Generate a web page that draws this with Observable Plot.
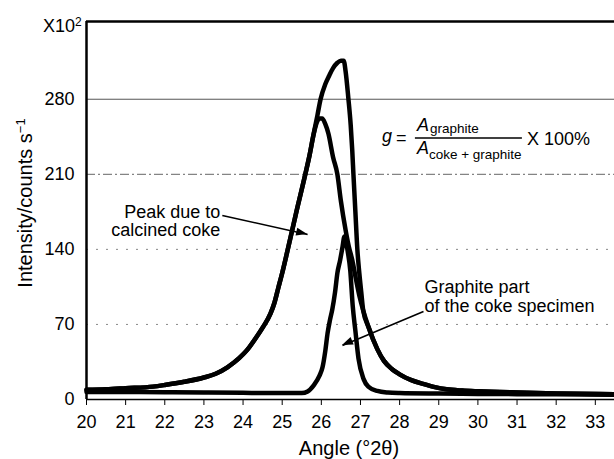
<!DOCTYPE html>
<html>
<head>
<meta charset="utf-8">
<script src="https://cdn.jsdelivr.net/npm/d3@7"></script>
<script src="https://cdn.jsdelivr.net/npm/@observablehq/plot@0.6"></script>
<style>
html,body{margin:0;padding:0;background:#fff;}
svg{display:block;}
</style>
</head>
<body>
<div id="chart"></div>
<script>
// ---- tick labels ----
const xTicks = [20,21,22,23,24,25,26,27,28,29,30,31,32,33];
const yTicks = [0,70,140,210,280];
const xDomain = [20, 33.49];
const yDomain = [0, 352.5];

// ---- series (intensity in counts/s x10^2) ----
const cokeAngle = [20,20.5,21,21.7,22,22.5,23,23.3,23.6,23.9,24.1,24.3,24.5,24.7,24.8,24.9,25.0,25.13,25.35,25.59,25.7,25.8,25.88,25.95,26.02,26.1,26.18,26.3,26.41,26.5,26.62,26.7,26.79,26.88,26.97,27.07,27.2,27.43,27.6,27.8,28.0,28.3,28.6,28.9,29.2,29.6,30,31,32,33.49];
const cokeIntensity = [9,9.5,10.5,12,13.5,16.5,20.5,24,30,38.5,46,56,67,80,90,104,118,138,173,210,228,247,258,262,262,257,248,226,210,185,158,143,130,113,97,83,68,47,36,28.5,23.5,18,14.5,11.5,9.5,8.3,7.6,6.5,5.7,5];

const totalAngle = [20,20.5,21,21.7,22,22.5,23,23.3,23.6,23.9,24.1,24.3,24.5,24.7,24.8,24.9,25.0,25.13,25.35,25.59,25.7,25.8,25.9,25.98,26.1,26.2,26.3,26.41,26.5,26.57,26.62,26.69,26.75,26.79,26.82,26.87,26.92,26.97,27.02,27.07,27.2,27.43,27.6,27.8,28.0,28.3,28.6,28.9,29.2,29.6,30,31,32,33.49];
const totalIntensity = [9,9.5,10.5,12,13.5,16.5,20.5,24,30,38.5,46,56,67,80,90,104,118,138,173,210,228,247,265,280,294,302,309,314,316,316,306,281,256,232,210,175,140,118,100,83,68,47,36,28.5,23.5,18,14.5,11.5,9.5,8.3,7.6,6.5,5.7,5];

const graphiteAngle = [20,21,22,23,24,25,25.5,25.65,25.8,25.95,26.03,26.1,26.16,26.22,26.28,26.35,26.41,26.48,26.54,26.59,26.63,26.67,26.74,26.8,26.87,26.95,27.08,27.2,27.43,27.7,28,29,30,31,32,33.49];
const graphiteIntensity = [7,7,6.8,6.5,6.2,6,6,7.5,13,22,30,45,62,74,84,100,118,130,142,152,147,139,120,88,64,38,19,12,8,6.5,6,5.5,5.2,5,4.8,4.5];

// ---- annotation texts ----
const cokeLabel = "Peak due to\ncalcined coke";
const graphiteLabel = "Graphite part\nof the coke specimen";

const rows = (xs, ys, s) => xs.map((a, i) => ({angle: a, intensity: ys[i], series: s}));
const total = rows(totalAngle, totalIntensity, "total");
const coke = rows(cokeAngle, cokeIntensity, "coke");
const graphite = rows(graphiteAngle, graphiteIntensity, "graphite");

const arrows = [
  {x1: 23.47, y1: 171.6, x2: 25.65, y2: 153.9},
  {x1: 28.61, y1: 82.1, x2: 26.54, y2: 50.4}
];

const FONT = "'Liberation Sans', Arial, Helvetica, sans-serif";
const lineOpts = {x: "angle", y: "intensity", curve: "monotone-x", stroke: "#000", strokeWidth: 4.5, strokeLinejoin: "round", strokeLinecap: "round"};

const plot = Plot.plot({
  width: 614,
  height: 459,
  marginLeft: 86,
  marginRight: 0,
  marginTop: 21,
  marginBottom: 60,
  style: {fontFamily: FONT, fontSize: "18px", color: "#000", background: "#fff", overflow: "visible"},
  x: {domain: xDomain},
  y: {domain: yDomain},
  marks: [
    Plot.ruleY([70, 140], {stroke: "#888", strokeWidth: 1, strokeDasharray: "2,8"}),
    Plot.ruleY([210], {stroke: "#666", strokeWidth: 1, strokeDasharray: "9,3,2,3"}),
    Plot.ruleY([280], {stroke: "#555", strokeWidth: 1}),
    Plot.axisX({ticks: xTicks, tickSize: 6, tickPadding: 10, label: null, fontSize: 18, tickFormat: d => String(d)}),
    Plot.axisY({ticks: yTicks, tickSize: 0, tickPadding: 12, label: null, fontSize: 18, tickFormat: d => String(d)}),
    Plot.line(coke, lineOpts),
    Plot.line(graphite, lineOpts),
    Plot.line(total, lineOpts),
    Plot.ruleX([xDomain[0]], {stroke: "#000", strokeWidth: 2.5}),
    Plot.ruleY([yDomain[1]], {stroke: "#000", strokeWidth: 2.7}),
    Plot.ruleY([0], {stroke: "#000", strokeWidth: 1.5}),
    Plot.text([cokeLabel], {x: 23.42, y: 166, text: d => d, textAnchor: "end", lineAnchor: "middle", fontSize: 18, lineHeight: 1.0}),
    Plot.text([graphiteLabel], {x: 28.636, y: 96.5, text: d => d, textAnchor: "start", lineAnchor: "middle", fontSize: 18, lineHeight: 1.05}),
    Plot.link(arrows, {x1: "x1", y1: "y1", x2: "x2", y2: "y2", stroke: "#000", strokeWidth: 1.6})
  ]
});
document.getElementById("chart").append(plot);

const sx = plot.scale("x"), sy = plot.scale("y");
const svg = d3.select(plot);

// filled arrowheads at the arrow tips
for (const a of arrows) {
  const X1 = sx.apply(a.x1), Y1 = sy.apply(a.y1), X2 = sx.apply(a.x2), Y2 = sy.apply(a.y2);
  const ang = Math.atan2(Y2 - Y1, X2 - X1);
  const L = 11, W = 4;
  const bx = X2 - L * Math.cos(ang), by = Y2 - L * Math.sin(ang);
  const px = -Math.sin(ang) * W, py = Math.cos(ang) * W;
  svg.append("polygon")
    .attr("points", `${X2},${Y2} ${bx + px},${by + py} ${bx - px},${by - py}`)
    .attr("fill", "#000");
}

// X10^2 multiplier label
const mult = svg.append("text").attr("x", 43).attr("y", 32).attr("text-anchor", "start")
  .style("font-family", FONT).style("font-size", "18px").text("X10");
mult.append("tspan").attr("dy", "-0.5em").style("font-size", "12px").text("2");

// Y axis title
const yt = svg.append("text").attr("transform", "translate(32,203) rotate(-90)")
  .attr("text-anchor", "middle").style("font-family", FONT).style("font-size", "20px")
  .text("Intensity/counts s");
yt.append("tspan").attr("dy", "-0.55em").style("font-size", "13px").text("\u22121");

// X axis title
svg.append("text").attr("x", 349).attr("y", 455).attr("text-anchor", "middle")
  .style("font-family", FONT).style("font-size", "20px").text("Angle (\u00b02\u03b8)");

// Formula
const fx = sx.apply(27.56), fy = sy.apply(243.4);
const f = svg.append("g").attr("transform", `translate(${fx},${fy})`)
  .attr("text-anchor", "start")
  .style("font-family", FONT).style("font-size", "18px");
f.append("text").attr("x", 0).attr("y", 4).style("font-style", "italic").text("g");
f.append("text").attr("x", 14).attr("y", 6).text("=");
f.append("line").attr("x1", 33).attr("x2", 140).attr("y1", 0).attr("y2", 0).attr("stroke", "#000").attr("stroke-width", 1.3);
f.append("text").attr("x", 35).attr("y", -7).style("font-style", "italic").text("A");
f.append("text").attr("x", 48).attr("y", -5).style("font-size", "13.5px").text("graphite");
f.append("text").attr("x", 35).attr("y", 16).style("font-style", "italic").text("A");
f.append("text").attr("x", 47).attr("y", 21).style("font-size", "13.5px").text("coke + graphite");
f.append("text").attr("x", 145).attr("y", 7).text("X 100%");
</script>
</body>
</html>
